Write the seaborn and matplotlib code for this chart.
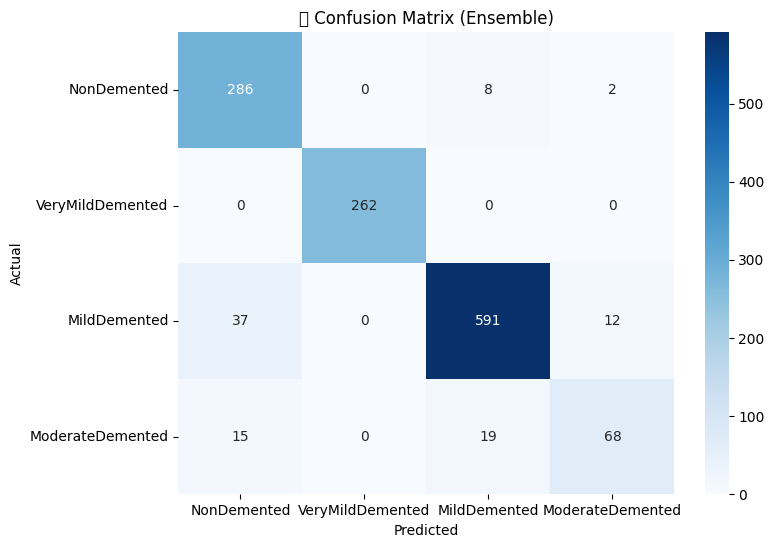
import matplotlib
matplotlib.use("Agg")
import matplotlib.pyplot as plt
import seaborn as sns
import numpy as np

labels = ["NonDemented", "VeryMildDemented", "MildDemented", "ModerateDemented"]
row_non = [286, 0, 8, 2]
row_very = [0, 262, 0, 0]
row_mild = [37, 0, 591, 12]
row_mod = [15, 0, 19, 68]
cm = np.array([row_non, row_very, row_mild, row_mod])

W, H = 774, 547
fig, ax = plt.subplots(figsize=(W / 100, H / 100), dpi=100)
sns.heatmap(cm, annot=True, fmt="d", cmap="Blues", xticklabels=labels, yticklabels=labels, ax=ax)
ax.set_title("\U0001F9E0 Confusion Matrix (Ensemble)")
ax.set_xlabel("Predicted")
ax.set_ylabel("Actual")
ax.tick_params(axis="x", labelrotation=0)
ax.tick_params(axis="y", labelrotation=0)
ax.set_position([178.4 / W, (H - 494.4) / H, 496 / W, 462 / H])
fig.axes[1].set_position([705.4 / W, (H - 494.4) / H, 23.5 / W, 462 / H])
fig.savefig("out.png", dpi=100)
